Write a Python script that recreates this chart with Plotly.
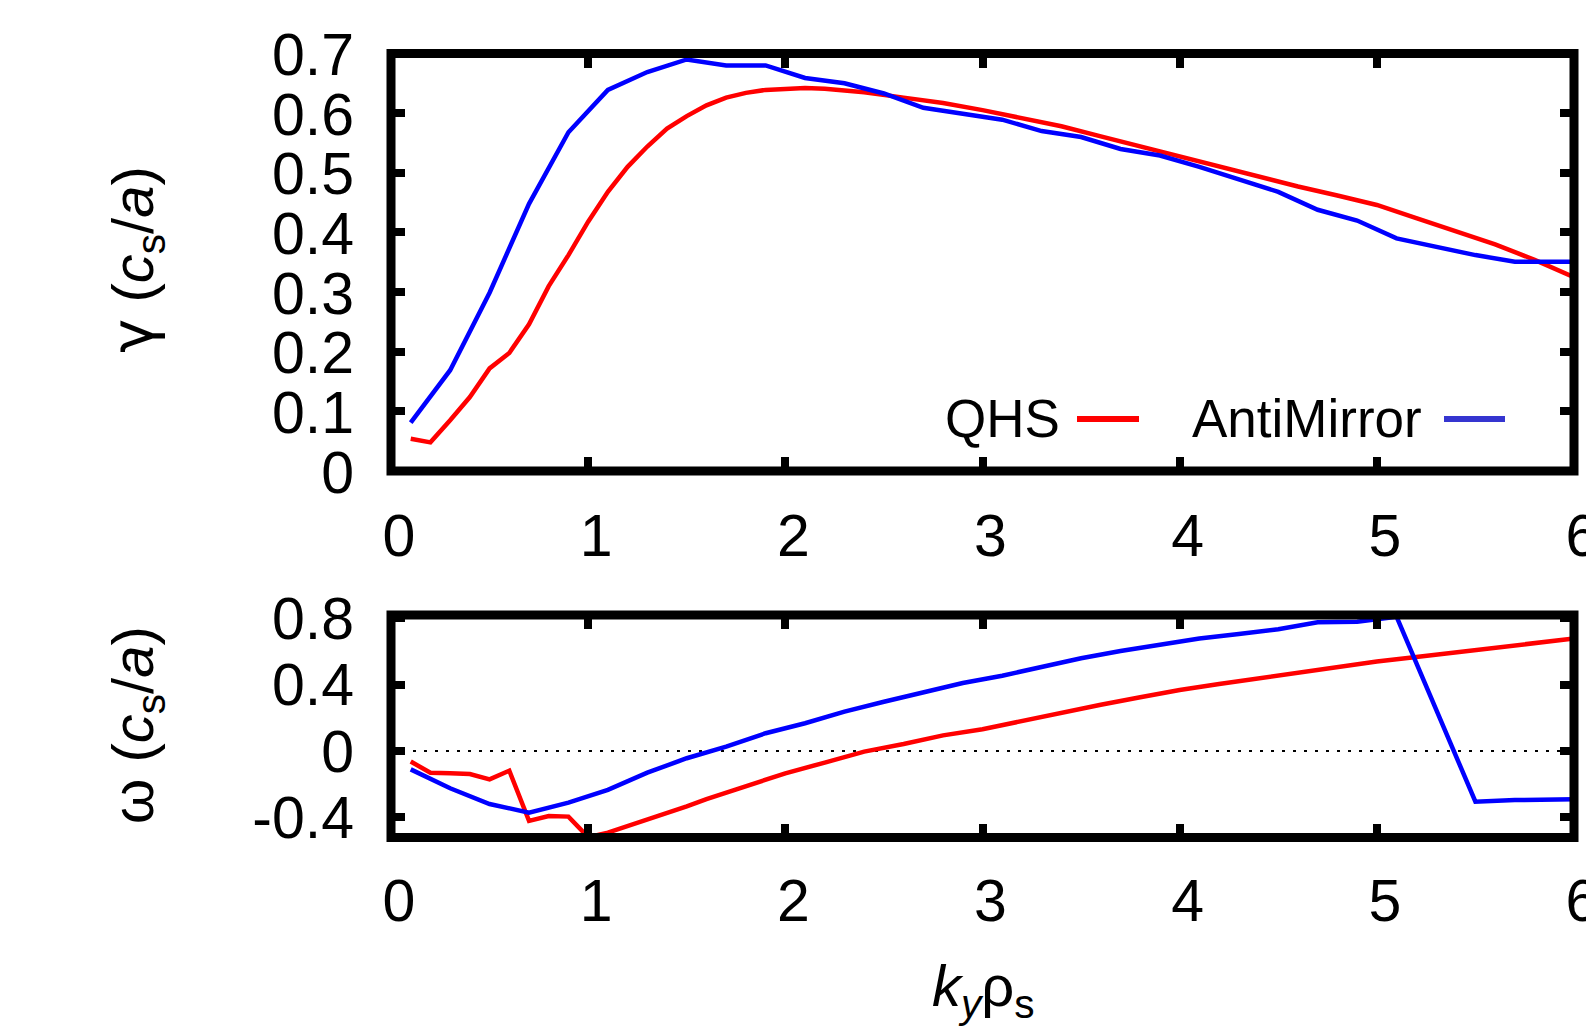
import plotly.graph_objects as go

# ---------------- data ----------------
qhs_gamma_k = [0.1, 0.2, 0.3, 0.4, 0.5, 0.6, 0.7, 0.8, 0.9, 1.0, 1.1, 1.2, 1.3, 1.4, 1.5,
               1.6, 1.7, 1.8, 1.9, 2.0, 2.1, 2.2, 2.4, 2.6, 2.8, 3.0, 3.2, 3.4, 3.6, 3.8,
               4.0, 4.2, 4.4, 4.6, 4.8, 5.0, 5.2, 5.4, 5.6, 5.8, 6.0]
qhs_gamma = [0.054, 0.048, 0.085, 0.124, 0.172, 0.198, 0.246, 0.310, 0.362, 0.418, 0.468,
             0.510, 0.544, 0.574, 0.595, 0.613, 0.626, 0.634, 0.639, 0.641, 0.642, 0.641,
             0.635, 0.626, 0.617, 0.605, 0.592, 0.578, 0.561, 0.544, 0.527, 0.511, 0.494,
             0.477, 0.462, 0.446, 0.424, 0.402, 0.380, 0.354, 0.325]

am_gamma_k = [0.1, 0.3, 0.5, 0.7, 0.9, 1.1, 1.3, 1.5, 1.7, 1.9, 2.1, 2.3, 2.5, 2.7, 2.9, 3.1,
              3.3, 3.5, 3.7, 3.9, 4.1, 4.3, 4.5, 4.7, 4.9, 5.1, 5.3, 5.5, 5.7, 5.9, 6.1]
am_gamma = [0.081, 0.169, 0.299, 0.448, 0.568, 0.639, 0.669, 0.690, 0.680, 0.680, 0.659,
            0.650, 0.633, 0.609, 0.599, 0.589, 0.570, 0.560, 0.540, 0.529, 0.510, 0.489,
            0.468, 0.438, 0.420, 0.390, 0.376, 0.362, 0.351, 0.351, 0.351]

qhs_omega_k = [0.1, 0.2, 0.3, 0.4, 0.5, 0.6, 0.7, 0.8, 0.9, 1.0, 1.1, 1.2, 1.3, 1.4, 1.5,
               1.6, 1.7, 1.8, 1.9, 2.0, 2.2, 2.4, 2.6, 2.8, 3.0, 3.2, 3.4, 3.6, 3.8, 4.0,
               4.2, 4.4, 4.6, 4.8, 5.0, 5.2, 5.4, 5.6, 5.8, 6.0]
qhs_omega = [-0.064, -0.131, -0.134, -0.139, -0.171, -0.119, -0.422, -0.392, -0.396, -0.520,
             -0.493, -0.454, -0.416, -0.374, -0.334, -0.291, -0.252, -0.213, -0.175, -0.135,
             -0.070, -0.004, 0.042, 0.094, 0.131, 0.181, 0.233, 0.279, 0.324, 0.368, 0.404,
             0.438, 0.472, 0.507, 0.539, 0.567, 0.596, 0.623, 0.650, 0.678]

am_omega_k = am_gamma_k
am_omega = [-0.111, -0.225, -0.320, -0.372, -0.312, -0.235, -0.131, -0.044, 0.026, 0.107,
            0.167, 0.237, 0.297, 0.354, 0.410, 0.454, 0.507, 0.559, 0.603, 0.643, 0.678,
            0.706, 0.734, 0.776, 0.780, 0.810, 0.252, -0.306, -0.296, -0.293, -0.290]

x_ticks = [0, 1, 2, 3, 4, 5, 6]
gamma_ticks = [0, 0.1, 0.2, 0.3, 0.4, 0.5, 0.6, 0.7]
gamma_ticktext = ["0", "0.1", "0.2", "0.3", "0.4", "0.5", "0.6", "0.7"]
omega_ticks = [-0.4, 0, 0.4, 0.8]
omega_ticktext = ["-0.4", "0", "0.4", "0.8"]

series_names = ["QHS", "AntiMirror"]
RED = "#ff0000"
BLUE = "#0000ff"
FONT = "Liberation Sans, Arial, Helvetica, sans-serif"

W, H = 1586, 1031
XD = [391 / W, 1574 / W]
YD_TOP = [1 - 471 / H, 1 - 53.5 / H]
YD_BOT = [1 - 837.5 / H, 1 - 615 / H]

fig = go.Figure()
fig.add_trace(go.Scatter(x=qhs_gamma_k, y=qhs_gamma, mode="lines", name=series_names[0],
                         line=dict(color=RED, width=4.5), xaxis="x", yaxis="y"))
fig.add_trace(go.Scatter(x=am_gamma_k, y=am_gamma, mode="lines", name=series_names[1],
                         line=dict(color=BLUE, width=4.5), xaxis="x", yaxis="y"))
fig.add_trace(go.Scatter(x=qhs_omega_k, y=qhs_omega, mode="lines", name=series_names[0],
                         line=dict(color=RED, width=4.5), xaxis="x2", yaxis="y2"))
fig.add_trace(go.Scatter(x=am_omega_k, y=am_omega, mode="lines", name=series_names[1],
                         line=dict(color=BLUE, width=4.5), xaxis="x2", yaxis="y2"))

axis_common = dict(showgrid=False, zeroline=False, showline=False, ticks="inside",
                   ticklen=14, tickwidth=8, tickcolor="black", mirror="ticks",
                   automargin=False, ticklabeloverflow="allow",
                   tickfont=dict(family=FONT, size=59, color="black"))

fig.update_layout(
    width=W, height=H, margin=dict(l=0, r=0, t=0, b=0, pad=0),
    paper_bgcolor="white", plot_bgcolor="white", showlegend=False,
    xaxis=dict(domain=XD, anchor="y", range=[0, 6], tickvals=x_ticks,
               ticklabelstandoff=25, ticklabelshift=8, **axis_common),
    yaxis=dict(domain=YD_TOP, anchor="x", range=[0, 0.7], tickvals=gamma_ticks,
               ticktext=gamma_ticktext, ticklabelstandoff=36, ticklabelshift=1,
               **axis_common),
    xaxis2=dict(domain=XD, anchor="y2", range=[0, 6], tickvals=x_ticks,
                ticklabelstandoff=23, ticklabelshift=8, **axis_common),
    yaxis2=dict(domain=YD_BOT, anchor="x2", range=[-0.522, 0.82], tickvals=omega_ticks,
                ticktext=omega_ticktext, ticklabelstandoff=36, ticklabelshift=0,
                **axis_common),
)

# zero reference line in the omega panel
fig.add_shape(type="line", xref="x2 domain", yref="y2", x0=0, x1=1, y0=0, y1=0,
              line=dict(color="black", width=2, dash="3px,8px"), layer="below")

# heavy frames
for xr, yr in (("x domain", "y domain"), ("x2 domain", "y2 domain")):
    fig.add_shape(type="rect", xref=xr, yref=yr, x0=0, x1=1, y0=0, y1=1,
                  line=dict(color="black", width=9), fillcolor="rgba(0,0,0,0)", layer="above")

# key (text followed by line sample, gnuplot style)
fig.add_annotation(text=series_names[0], xref="paper", yref="paper", x=1062 / W, y=1 - 418 / H,
                   xanchor="right", yanchor="middle", showarrow=False,
                   font=dict(family=FONT, size=53, color="black"))
fig.add_annotation(text=series_names[1], xref="paper", yref="paper", x=1424 / W, y=1 - 418 / H,
                   xanchor="right", yanchor="middle", showarrow=False,
                   font=dict(family=FONT, size=53, color="black"))
fig.add_shape(type="line", xref="paper", yref="paper", x0=1077 / W, x1=1139 / W,
              y0=1 - 419 / H, y1=1 - 419 / H, line=dict(color=RED, width=6))
fig.add_shape(type="line", xref="paper", yref="paper", x0=1444 / W, x1=1505 / W,
              y0=1 - 419 / H, y1=1 - 419 / H, line=dict(color="#3535d0", width=6))

# axis titles
fig.add_annotation(text="<span style='font-family:DejaVu Sans'>γ</span> (<i>c</i><sub>s</sub>/<i>a</i>)",
                   xref="paper", yref="paper",
                   x=137 / W, y=1 - 260 / H, textangle=-90, showarrow=False,
                   xanchor="center", yanchor="middle",
                   font=dict(family=FONT, size=58, color="black"))
fig.add_annotation(text="ω (<i>c</i><sub>s</sub>/<i>a</i>)", xref="paper", yref="paper",
                   x=137 / W, y=1 - 725 / H, textangle=-90, showarrow=False,
                   xanchor="center", yanchor="middle",
                   font=dict(family=FONT, size=58, color="black"))
fig.add_annotation(text="<i>k</i><sub><i>y</i></sub>ρ<sub>s</sub>", xref="paper", yref="paper",
                   x=983 / W, y=1 - 990 / H, showarrow=False,
                   xanchor="center", yanchor="middle",
                   font=dict(family=FONT, size=58, color="black"))

fig.write_html("out.html")
